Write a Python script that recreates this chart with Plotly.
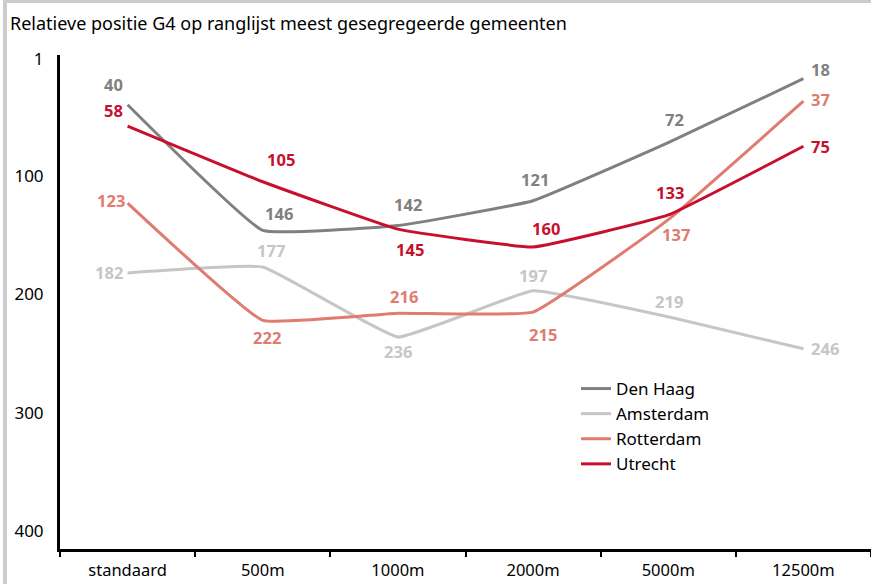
import plotly.graph_objects as go

# Data
categories = ['standaard', '500m', '1000m', '2000m', '5000m', '12500m']
series_names = ['Den Haag', 'Amsterdam', 'Rotterdam', 'Utrecht']
den_haag = [40, 146, 142, 121, 72, 18]
amsterdam = [182, 177, 236, 197, 219, 246]
rotterdam = [123, 222, 216, 215, 137, 37]
utrecht = [58, 105, 145, 160, 133, 75]
y_ticks = [1, 100, 200, 300, 400]

# Style
colors = ['#808080', '#c6c6c6', '#e07b70', '#c8102e']
# label offsets (px) relative to each point: (dx, dy), dy positive = down
label_offsets = [
    [(-14, -20), (16, -17), (10, -21), (2, -21), (6, -23), (17, -9)],
    [(-19, 0), (8, -17), (0, 15), (0, -15), (1, -15), (22, 0)],
    [(-17, -3), (4, 17), (6, -17), (10, 22), (8, 15), (17, -2)],
    [(-14, -16), (18, -22), (12, 20), (13, -18), (2, -22), (17, 0)],
]

FONT = 'Noto Sans'
W, H = 871, 584
ML, MR, MT, MB = 60, 0, 55, 35
PW, PH = W - ML - MR, H - MT - MB


def px_to_paper(x, y):
    return (x - ML) / PW, (H - MB - y) / PH


fig = go.Figure()
all_values = [den_haag, amsterdam, rotterdam, utrecht]
for name, vals, col in zip(series_names, all_values, colors):
    fig.add_trace(go.Scatter(
        x=categories, y=vals, name=name, mode='lines',
        line=dict(color=col, width=3, shape='spline', smoothing=0.3),
    ))

annotations = []
for vals, col, offs in zip(all_values, colors, label_offsets):
    for cat, v, (dx, dy) in zip(categories, vals, offs):
        annotations.append(dict(
            x=cat, y=v, xref='x', yref='y', text=str(v), showarrow=False,
            xshift=dx, yshift=-dy,
            font=dict(family=FONT, size=16.5, color=col, weight='bold'),
        ))

tx, ty = px_to_paper(8, 23)
annotations.append(dict(
    x=tx, y=ty, xref='paper', yref='paper', xanchor='left', yanchor='middle',
    text='Relatieve positie G4 op ranglijst meest gesegregeerde gemeenten',
    showarrow=False, font=dict(family=FONT, size=18, color='#000000'),
))

# gray frame pieces (left and top)
x0, _ = px_to_paper(3, 0)
x1, _ = px_to_paper(7, 0)
_, y0 = px_to_paper(0, H)
_, y1 = px_to_paper(0, 0)
_, yb = px_to_paper(0, 3)
shapes = [
    dict(type='rect', xref='paper', yref='paper', x0=x0, x1=x1, y0=y0, y1=y1,
         fillcolor='#cccccc', line=dict(width=0), layer='below'),
    dict(type='rect', xref='paper', yref='paper', x0=x0, x1=1.0, y0=yb, y1=y1,
         fillcolor='#cccccc', line=dict(width=0), layer='below'),
]

lx, ly = px_to_paper(576, 371)
fig.update_layout(
    width=W, height=H,
    margin=dict(l=ML, r=MR, t=MT, b=MB, autoexpand=False),
    paper_bgcolor='white', plot_bgcolor='white',
    font=dict(family=FONT, size=17, color='#000000'),
    showlegend=True,
    legend=dict(x=lx, y=ly, xanchor='left', yanchor='top',
                font=dict(family=FONT, size=17), tracegroupgap=0,
                itemwidth=30, bgcolor='rgba(0,0,0,0)'),
    annotations=annotations,
    shapes=shapes,
)
fig.update_xaxes(
    type='category', range=[-0.5, 5.5], showgrid=False, zeroline=False,
    showline=True, linecolor='#000000', linewidth=3,
    ticks='outside', tickson='boundaries', ticklen=5, tickwidth=2, tickcolor='#000000',
    ticklabelstandoff=4, tickfont=dict(family=FONT, size=16.5),
)
fig.update_yaxes(
    range=[415, -2], tickvals=y_ticks, showgrid=False, zeroline=False,
    showline=True, linecolor='#000000', linewidth=3, ticks='',
    ticklabelstandoff=10, tickfont=dict(family=FONT, size=17),
)

fig.write_html(
    "out.html",
    config={'displayModeBar': False},
    post_script="document.body.style.margin='0';document.body.style.overflow='hidden';",
)
